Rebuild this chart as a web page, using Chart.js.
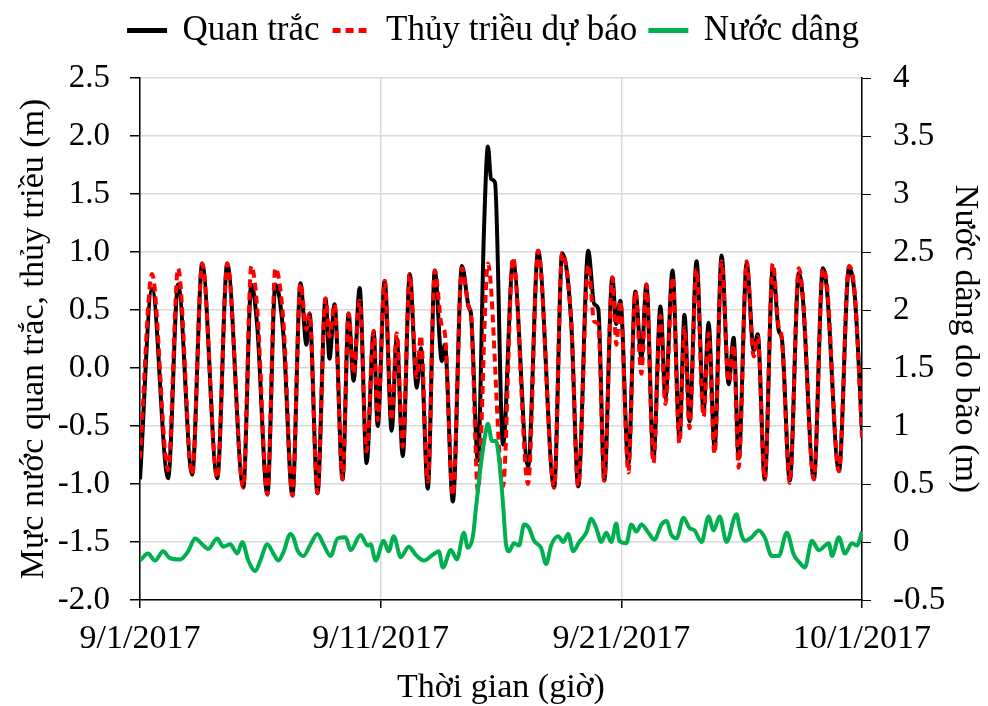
<!DOCTYPE html>
<html>
<head>
<meta charset="utf-8">
<script src="https://cdn.jsdelivr.net/npm/chart.js@4/dist/chart.umd.min.js"></script>
<style>
  html, body { margin: 0; padding: 0; background: #fff; }
  #wrap { width: 988px; height: 706px; }
</style>
</head>
<body>
<div id="wrap"><canvas id="tideChart"></canvas></div>
<script>
// hours counted from 9/1/2017 00:00, values at turning points
const xTickLabels = ['9/1/2017', '9/11/2017', '9/21/2017', '10/1/2017'];

const obsHours = [0, 12, 28, 38, 52, 62, 77, 87, 103, 111, 117, 127, 135, 143, 152, 160, 166, 169, 177, 185, 189, 194,
  202, 208, 213, 219, 226, 233, 237, 244, 251, 256, 262, 269, 276, 280, 287, 294, 301, 304, 312, 321, 328, 330, 337,
  343, 347, 350, 354, 362, 372, 387, 397, 413, 421, 430, 437, 447, 453, 457, 463, 471, 475, 479, 487, 494, 500, 505,
  512, 519, 524, 531, 538, 543, 548, 555, 562, 567, 573, 580, 587, 592, 597, 605, 612, 616, 623, 631, 637, 640, 648,
  657, 661, 672, 681, 685, 697, 707, 713, 720];
const obsLevel = [-0.96, 0.68, -0.95, 0.72, -0.92, 0.90, -0.95, 0.90, -1.03, 0.72, 0.35, -1.09, 0.72, 0.29, -1.10, 0.73, 0.20, 0.47, -1.08, 0.60, 0.08, 0.55,
  -0.96, 0.47, -0.11, 0.69, -0.82, 0.32, -0.50, 0.75, -0.54, 0.26, -0.76, 0.81, -0.17, 0.17, -1.04, 0.84, 0.06, 0.20, -1.15, 0.88, 0.52, 0.47, -0.80,
  1.18, 1.91, 1.63, 1.60, -0.66, 0.92, -0.85, 1.01, -1.03, 0.99, 0.40, -1.02, 1.01, 0.55, 0.51, -0.97, 0.78, 0.38, 0.58, -0.83, 0.66, 0.09, 0.72,
  -0.78, 0.53, -0.26, 0.84, -0.60, 0.46, -0.46, 0.92, -0.37, 0.39, -0.69, 0.97, -0.14, 0.26, -0.78, 0.90, 0.15, 0.29, -0.96, 0.86, 0.32, 0.26, -0.97,
  0.82, 0.60, -0.96, 0.86, 0.68, -0.89, 0.86, 0.60, -0.54];

const tideHours = [0, 12, 28, 38, 52, 62, 77, 87, 103, 111, 117, 127, 135, 143, 152, 160, 166, 169, 177, 185, 189, 194,
  202, 208, 213, 219, 226, 233, 237, 244, 251, 256, 262, 269, 276, 280, 287, 294, 301, 304, 312, 321, 328, 330, 337,
  347, 362, 372, 387, 397, 413, 421, 430, 437, 447, 453, 457, 463, 471, 475, 479, 487, 494, 500, 505,
  512, 519, 524, 531, 538, 543, 548, 555, 562, 567, 573, 580, 587, 592, 597, 605, 612, 616, 623, 631, 637, 640, 648,
  657, 661, 672, 681, 685, 697, 707, 713, 720];
const tideLevel = [-0.78, 0.81, -0.88, 0.86, -0.92, 0.90, -0.95, 0.90, -1.03, 0.88, 0.50, -1.09, 0.86, 0.40, -1.10, 0.73, 0.33, 0.47, -1.08, 0.60, 0.27, 0.55,
  -0.96, 0.47, -0.05, 0.58, -0.72, 0.32, -0.45, 0.75, -0.45, 0.30, -0.68, 0.81, -0.08, 0.28, -0.98, 0.84, 0.36, 0.30, -1.10, 0.86, 0.52, 0.47, -1.06,
  0.90, -1.02, 0.95, -1.00, 1.01, -1.03, 0.99, 0.40, -1.02, 0.89, 0.40, 0.38, -0.97, 0.78, 0.20, 0.58, -0.90, 0.66, -0.05, 0.72,
  -0.82, 0.45, -0.31, 0.78, -0.65, 0.35, -0.52, 0.85, -0.42, 0.30, -0.74, 0.92, -0.12, 0.20, -0.86, 0.92, 0.10, 0.27, -0.96, 0.90, 0.35, 0.26, -0.99,
  0.86, 0.62, -0.96, 0.86, 0.72, -0.89, 0.88, 0.62, -0.60];

const surgeHours = [0, 8, 15, 23, 30, 40, 48, 55, 62, 68, 77, 83, 90, 97, 102, 108, 115, 120, 127, 133, 138, 143, 150, 153,
  157, 163, 170, 177, 183, 190, 197, 205, 210, 220, 227, 230, 235, 243, 248, 253, 260, 268, 275, 283, 292, 298, 302,
  310, 316, 323, 327, 332, 335, 340, 345, 347, 351, 355, 358, 362, 365, 368, 373, 378, 383, 388, 393, 400, 405, 410,
  417, 422, 427, 432, 438, 445, 450, 455, 460, 465, 470, 475, 478, 485, 490, 495, 500, 507, 513, 520, 525, 530, 535,
  542, 548, 553, 560, 567, 572, 578, 585, 593, 595, 598, 603, 610, 617, 623, 630, 637, 645, 652, 658, 663, 670, 677,
  687, 690, 697, 703, 710, 715, 720];
const surgeLevel = [-0.16, -0.10, -0.16, -0.08, -0.14, -0.15, -0.08, 0.03, -0.02, -0.06, 0.03, -0.04, -0.02, -0.10, 0.00, -0.16, -0.25, -0.16, -0.02, -0.10, -0.16, -0.09, 0.07, 0.04,
  -0.07, -0.12, -0.02, 0.07, -0.02, -0.12, 0.03, 0.04, -0.07, 0.06, -0.03, -0.02, -0.16, 0.01, -0.08, 0.05, -0.13, -0.04, -0.11, -0.16, -0.11, -0.08, -0.22,
  -0.07, -0.15, 0.08, -0.05, 0.05, 0.29, 0.67, 0.96, 1.02, 0.87, 0.87, 0.72, 0.33, -0.02, -0.08, -0.01, -0.03, 0.15, 0.12, 0.01, -0.05, -0.19, -0.03,
  0.05, 0.00, 0.07, -0.08, 0.00, 0.08, 0.20, 0.12, 0.00, 0.08, 0.00, 0.16, 0.01, -0.01, 0.15, 0.09, 0.15, 0.08, 0.02, 0.15, 0.18, 0.06, 0.03,
  0.21, 0.12, 0.10, 0.00, 0.22, 0.10, 0.22, 0.00, 0.22, 0.24, 0.12, 0.01, 0.04, 0.10, 0.04, -0.12, -0.12, 0.08, -0.11, -0.18, -0.22, 0.01, -0.07,
  -0.01, -0.12, 0.04, -0.10, -0.01, -0.03, 0.09];

const toPoints = (xs, ys) => xs.map((x, i) => ({ x, y: ys[i] }));

const FONT = 'Liberation Serif, Times New Roman, serif';
const GRID = '#d9d9d9';

// fixed legend band so the plot starts where it does in the picture
const legendBand = {
  id: 'legendBand',
  beforeInit(chart) {
    const fit = chart.legend.fit;
    chart.legend.fit = function () {
      fit.call(this);
      this.height = 78;
    };
  }
};

const ctx = document.getElementById('tideChart').getContext('2d');
new Chart(ctx, {
  type: 'line',
  data: {
    datasets: [
      {
        label: 'Quan trắc',
        data: toPoints(obsHours, obsLevel),
        borderColor: '#000000',
        backgroundColor: 'transparent',
        borderWidth: 4,
        yAxisID: 'y',
        order: 2
      },
      {
        label: 'Thủy triều dự báo',
        data: toPoints(tideHours, tideLevel),
        borderColor: '#ff0000',
        backgroundColor: 'transparent',
        borderWidth: 4,
        borderDash: [8, 5],
        yAxisID: 'y',
        order: 1
      },
      {
        label: 'Nước dâng',
        data: toPoints(surgeHours, surgeLevel),
        borderColor: '#00b050',
        backgroundColor: 'transparent',
        borderWidth: 4,
        yAxisID: 'y1',
        order: 0
      }
    ]
  },
  options: {
    responsive: true,
    maintainAspectRatio: false,
    animation: false,
    layout: { padding: 0 },
    elements: {
      point: { radius: 0 },
      line: { cubicInterpolationMode: 'monotone', fill: false }
    },
    plugins: {
      tooltip: { enabled: false },
      legend: {
        position: 'top',
        labels: {
          color: '#000',
          font: { family: FONT, size: 35 },
          boxWidth: 36,
          boxHeight: 1,
          padding: 13,
          sort: (a, b) => a.datasetIndex - b.datasetIndex
        }
      }
    },
    scales: {
      x: {
        type: 'linear',
        min: 0,
        max: 720,
        afterFit: s => { s.height = 106; },
        afterBuildTicks: s => { s.ticks = xTickLabels.map((_, i) => ({ value: i * 240 })); },
        ticks: {
          color: '#000',
          font: { family: FONT, size: 34 },
          padding: 11,
          maxRotation: 0,
          callback: v => xTickLabels[Math.round(v / 240)]
        },
        grid: { color: GRID, lineWidth: 1.5, tickColor: '#000', tickLength: 8 },
        border: { color: '#000', width: 1.5 },
        title: {
          display: true,
          text: 'Thời gian (giờ)',
          color: '#000',
          font: { family: FONT, size: 34 },
          padding: { top: 0, bottom: -2 }
        }
      },
      y: {
        position: 'left',
        min: -2,
        max: 2.5,
        afterFit: s => { s.width = 140; },
        ticks: {
          stepSize: 0.5,
          color: '#000',
          font: { family: FONT, size: 33 },
          padding: 20,
          callback: v => v.toFixed(1)
        },
        grid: { color: GRID, lineWidth: 1.5, tickColor: '#000', tickLength: 10 },
        border: { color: '#000', width: 1.5 },
        title: {
          display: true,
          text: 'Mực nước quan trắc, thủy triều (m)',
          color: '#000',
          font: { family: FONT, size: 34 },
          padding: { top: 14, bottom: 0 }
        }
      },
      y1: {
        position: 'right',
        min: -0.5,
        max: 4,
        afterFit: s => { s.width = 126; },
        ticks: {
          stepSize: 0.5,
          color: '#000',
          font: { family: FONT, size: 33 },
          padding: 22,
          callback: v => String(Math.round(v * 10) / 10)
        },
        grid: { drawOnChartArea: false, tickColor: '#000', tickLength: 9 },
        border: { color: '#000', width: 1.5 },
        title: {
          display: true,
          text: 'Nước dâng do bão (m)',
          color: '#000',
          font: { family: FONT, size: 34 },
          padding: { top: 3, bottom: 0 }
        }
      }
    }
  },
  plugins: [legendBand]
});
</script>
</body>
</html>
